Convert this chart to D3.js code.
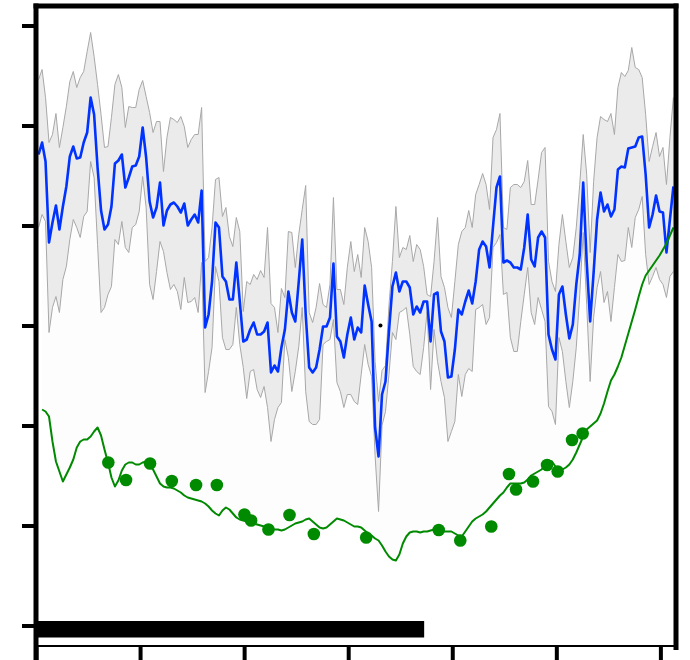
<!DOCTYPE html>
<html>
<head>
<meta charset="utf-8">
<script src="https://cdn.jsdelivr.net/npm/d3@7"></script>
<style>
  html, body { margin: 0; padding: 0; background: #fff; }
  svg { display: block; }
</style>
</head>
<body>
<svg id="chart" width="690" height="660"></svg>
<script>
// Sampling of the series: first sample time and spacing (x units)
const sampleStart = 0.025;
const sampleStep = 1 / 30;

// Mean trace
const meanLine = [
  4.71,4.83,4.64,3.83,4.03,4.20,3.96,4.19,4.39,4.69, 4.79,4.67,4.68,4.83,4.93,5.28,5.11,4.58,4.15,3.96,
  4.01,4.19,4.62,4.65,4.71,4.38,4.48,4.59,4.60,4.69, 4.98,4.68,4.24,4.08,4.18,4.43,4.00,4.15,4.21,4.23,
  4.19,4.13,4.22,4.00,4.06,4.11,
  4.03,4.35,2.98,3.11,3.44,4.03,3.98,3.49,3.44,3.26, 3.26,3.63,3.24,2.84,2.86,2.96,3.03,2.91,2.91,2.94,
  3.03,2.53,2.60,2.54,2.78,2.96,3.34,3.13,3.04,3.44, 3.86,3.11,2.58,2.53,2.58,2.76,2.99,2.99,3.08,3.62,
  2.89,2.84,2.68,2.91,3.08,2.86,
  2.98,2.93,3.40,3.21,3.04,1.98,1.69,2.31,2.44,2.94, 3.39,3.53,3.34,3.44,3.44,3.38,3.11,3.19,3.13,3.24,
  3.24,2.84,3.31,3.33,2.94,2.84,2.48,2.49,2.76,3.16, 3.11,3.24,3.35,3.22,3.44,3.76,3.84,3.79,3.58,3.99,
  4.38,4.49,3.63,3.65,3.63,3.58,
  3.58,3.56,3.78,4.11,3.66,3.59,3.88,3.94,3.88,2.91, 2.76,2.66,3.31,3.39,3.11,2.87,3.01,3.41,3.71,4.43,
  3.64,3.04,3.53,4.06,4.33,4.14,4.21,4.09,4.16,4.56, 4.59,4.58,4.77,4.78,4.79,4.88,4.89,4.51,3.98,4.11,
  4.30,4.14,4.13,3.73,4.06,4.39
];

// Upper edge of the spread band
const bandUpper = [
  5.46,5.56,5.28,4.83,4.91,5.12,4.78,4.98,5.19,5.44, 5.54,5.38,5.48,5.54,5.74,5.93,5.69,5.41,5.11,4.78,
  4.79,5.08,5.41,5.51,5.38,4.98,5.19,5.18,5.18,5.36, 5.45,5.29,5.13,4.93,5.04,5.04,4.54,4.88,5.08,5.06,
  5.03,5.09,4.99,4.78,4.86,4.91,
  4.91,5.18,3.64,3.68,3.98,4.46,4.48,4.09,4.18,3.89, 3.79,4.08,3.94,3.14,3.44,3.41,3.51,3.46,3.55,3.48,
  3.98,3.22,3.18,2.93,3.37,3.28,3.94,3.93,3.58,3.91, 4.16,4.40,3.13,3.03,3.18,3.42,3.21,3.18,3.41,4.28,
  3.36,3.36,3.21,3.58,3.84,3.54,
  3.71,3.48,3.98,3.84,3.58,2.64,2.24,2.55,2.60,3.20, 3.64,4.19,3.68,3.78,3.76,3.90,3.64,3.81,3.76,3.59,
  3.31,3.29,3.64,4.08,3.49,3.38,3.18,3.08,3.44,3.81, 3.94,3.98,4.15,3.98,4.31,4.41,4.52,4.41,4.16,4.88,
  4.96,5.12,3.98,3.96,4.38,4.41,
  4.41,4.38,4.44,4.65,4.21,4.21,4.46,4.73,4.78,3.64, 3.44,3.34,3.81,4.11,3.84,3.58,3.68,3.98,4.41,4.91,
  4.51,3.73,4.44,4.88,5.09,5.06,5.04,5.12,4.91,5.38, 5.53,5.49,5.55,5.78,5.58,5.56,5.48,5.11,4.64,4.79,
  4.93,4.69,4.78,4.41,4.88,5.28
];

// Lower edge of the spread band
const bandLower = [
  3.98,4.11,4.04,2.93,3.18,3.29,3.13,3.46,3.59,3.86, 4.06,3.98,3.88,4.09,4.14,4.64,4.48,3.81,3.13,3.18,
  3.31,3.39,3.86,3.81,4.04,3.78,3.73,3.98,4.01,4.14, 4.49,4.18,3.41,3.26,3.54,3.84,3.74,3.53,3.36,3.41,
  3.34,3.16,3.48,3.23,3.24,3.28,
  3.13,3.63,2.33,2.54,2.78,3.59,3.44,2.88,2.76,2.76, 2.81,3.18,2.81,2.58,2.27,2.54,2.56,2.36,2.28,2.39,
  2.18,1.84,2.06,2.18,2.23,2.86,2.68,2.34,2.54,2.79, 3.18,2.34,2.04,2.01,2.01,2.06,2.81,2.84,2.86,3.06,
  2.43,2.34,2.18,2.31,2.31,2.24,
  2.21,2.51,2.81,2.61,2.49,1.70,1.14,2.00,2.14,2.51, 2.93,2.86,3.13,3.15,3.18,2.91,2.59,2.54,2.51,2.78,
  3.14,2.36,2.96,2.64,2.44,2.28,1.84,1.94,2.04,2.51, 2.29,2.51,2.57,2.54,3.16,3.18,3.21,3.01,3.08,3.78,
  3.83,3.91,3.31,3.33,2.88,2.74,
  2.74,3.04,3.31,3.58,3.13,3.01,3.28,3.16,3.04,2.19, 2.14,2.01,2.88,2.74,2.44,2.18,2.44,2.78,3.31,3.93,
  3.21,2.44,3.08,3.38,3.54,3.23,3.34,3.04,3.38,3.71, 3.64,3.65,3.98,3.78,4.08,4.16,4.29,3.71,3.41,3.49,
  3.58,3.46,3.41,3.28,3.49,3.54
];

// Fitted trend (no value at the first sample)
const fitLine = [
  null,2.16,2.14,2.09,1.84,1.64,1.54,1.44,1.51,1.58, 1.66,1.78,1.84,1.86,1.86,1.89,1.94,1.98,1.90,1.76,
  1.63,1.48,1.39,1.45,1.55,1.61,1.63,1.63,1.61,1.61, 1.63,1.64,1.60,1.56,1.49,1.42,1.39,1.38,1.38,1.37,
  1.35,1.33,1.30,1.28,1.27,1.26,1.25,1.24,1.22,1.19, 1.15,1.12,1.10,1.15,1.18,1.16,1.12,1.08,1.06,1.05,
  1.04,1.03,1.02,1.01,1.00,0.99,0.98,0.97,0.96,0.96, 0.95,0.96,0.98,1.00,1.02,1.03,1.04,1.06,1.07,1.04,
  1.01,0.98,0.97,0.98,1.01,1.04,1.07,1.06,1.05,1.03, 1.01,0.99,0.99,0.98,0.95,0.92,0.90,0.87,0.85,0.80,
  0.74,0.69,0.66,0.65,0.71,0.82,0.89,0.93,0.94,0.94, 0.93,0.94,0.94,0.95,0.96,0.96,0.95,0.94,0.94,0.94,
  0.92,0.90,0.89,0.94,0.99,1.04,1.07,1.09,1.11,1.14, 1.18,1.22,1.26,1.30,1.33,1.38,1.42,1.42,1.42,1.42,
  1.43,1.46,1.50,1.52,1.54,1.56,1.61,1.65,1.64,1.59, 1.56,1.56,1.58,1.61,1.66,1.73,1.81,1.89,1.96,1.99,
  2.02,2.05,2.12,2.22,2.34,2.45,2.51,2.59,2.68,2.80, 2.92,3.04,3.16,3.29,3.41,3.50,3.55,3.60,3.65,3.70,
  3.76,3.82,3.90,3.98
];

// Observations
const obsX = [0.695,0.865,1.096,1.305,1.538,1.738,2.003,2.067,2.234,2.436,2.670,
              3.173,3.870,4.077,4.375,4.545,4.613,4.776,4.911,5.013,5.151,5.253];
const obsY = [1.63,1.455,1.62,1.445,1.405,1.405,1.11,1.05,0.96,1.105,0.915,
              0.88,0.955,0.85,0.99,1.515,1.36,1.44,1.605,1.54,1.855,1.92];

// Single marked point
const markX = [3.31];
const markY = [3.0];

// Interval bar along the bottom
const barStart = [0];
const barEnd = [3.73];
const barLow = [-0.12];
const barHigh = [0.045];

const xTicks = [0, 1, 2, 3, 4, 5, 6];
const yTicks = [0, 1, 2, 3, 4, 5, 6];

// ---------------------------------------------------------------
const svg = d3.select("#chart");
const x = d3.scaleLinear().domain([0, 6.15]).range([36, 676]);
const y = d3.scaleLinear().domain([-0.2, 6.2]).range([645.5, 5.5]);

const samples = meanLine.map((m, i) => ({
  t: sampleStart + i * sampleStep,
  mean: m,
  hi: bandUpper[i],
  lo: bandLower[i],
  fit: fitLine[i]
}));

// faint region between the trend and the band
svg.append("path")
  .datum(samples.filter(d => d.fit != null))
  .attr("fill", "#fdfdfd")
  .attr("d", d3.area().x(d => x(d.t)).y0(d => y(d.fit)).y1(d => y(d.hi)));

// spread band
svg.append("path")
  .datum(samples)
  .attr("fill", "#ebebeb")
  .attr("d", d3.area().x(d => x(d.t)).y0(d => y(d.lo)).y1(d => y(d.hi)));

["hi", "lo"].forEach(k => {
  svg.append("path")
    .datum(samples)
    .attr("fill", "none")
    .attr("stroke", "#a8a8a8")
    .attr("stroke-width", 1)
    .attr("d", d3.line().x(d => x(d.t)).y(d => y(d[k])));
});

// mean trace
svg.append("path")
  .datum(samples)
  .attr("fill", "none")
  .attr("stroke", "#0033ff")
  .attr("stroke-width", 2.6)
  .attr("stroke-linejoin", "round")
  .attr("d", d3.line().x(d => x(d.t)).y(d => y(d.mean)));

// trend
svg.append("path")
  .datum(samples)
  .attr("fill", "none")
  .attr("stroke", "#008a00")
  .attr("stroke-width", 2)
  .attr("stroke-linejoin", "round")
  .attr("d", d3.line().defined(d => d.fit != null).x(d => x(d.t)).y(d => y(d.fit)));

// observations
svg.append("g").selectAll("circle")
  .data(obsX.map((v, i) => ({ x: v, y: obsY[i] })))
  .join("circle")
  .attr("cx", d => x(d.x))
  .attr("cy", d => y(d.y))
  .attr("r", 6.3)
  .attr("fill", "#008a00");

// marked point
svg.append("g").selectAll("circle")
  .data(markX.map((v, i) => ({ x: v, y: markY[i] })))
  .join("circle")
  .attr("cx", d => x(d.x))
  .attr("cy", d => y(d.y))
  .attr("r", 2)
  .attr("fill", "#000");

// interval bar
svg.append("g").selectAll("rect")
  .data(barStart.map((s, i) => ({ s, e: barEnd[i], lo: barLow[i], hi: barHigh[i] })))
  .join("rect")
  .attr("x", d => x(d.s))
  .attr("width", d => x(d.e) - x(d.s))
  .attr("y", d => y(d.hi))
  .attr("height", d => y(d.lo) - y(d.hi))
  .attr("fill", "#000");

// axes
const yAxis = svg.append("g")
  .attr("transform", `translate(${x(0)},0)`)
  .call(d3.axisLeft(y).tickValues(yTicks).tickSize(14).tickSizeOuter(0).tickFormat(""));
yAxis.select(".domain").remove();
yAxis.selectAll(".tick line").attr("stroke", "#000").attr("stroke-width", 4);

const xAxis = svg.append("g")
  .attr("transform", `translate(0,${y(-0.2)})`)
  .call(d3.axisBottom(x).tickValues(xTicks).tickSize(15).tickSizeOuter(0).tickFormat(""));
xAxis.select(".domain").attr("stroke", "#000").attr("stroke-width", 2);
xAxis.selectAll(".tick line").attr("stroke", "#000").attr("stroke-width", 4);

// frame
const frame = svg.append("g").attr("stroke", "#000").attr("stroke-width", 5);
frame.append("line").attr("x1", x(0)).attr("x2", x(0)).attr("y1", 3.5).attr("y2", 660);
frame.append("line").attr("x1", x(0) - 2.5).attr("x2", x(6.15) + 2.5).attr("y1", 6).attr("y2", 6);
frame.append("line").attr("x1", x(6.15)).attr("x2", x(6.15)).attr("y1", 3.5).attr("y2", 650);
</script>
</body>
</html>
